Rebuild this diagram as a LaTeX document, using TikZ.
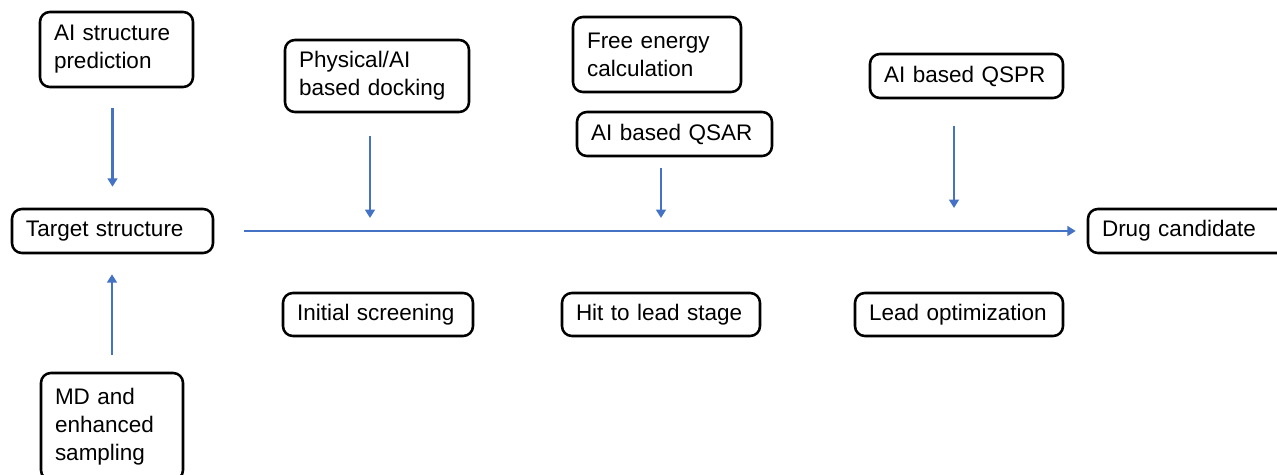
\documentclass[tikz,border=0pt]{standalone}
\usepackage{fontspec}
\setmainfont{Liberation Sans}
\usepackage{tikz}
\usetikzlibrary{positioning}
\usetikzlibrary{arrows.meta}

\definecolor{flowblue}{RGB}{68,114,196}

\begin{document}
\begin{tikzpicture}[->,>={Triangle[length=6pt,width=7pt]},
	flow/.style={draw=flowblue,fill=flowblue,line width=1.7pt},
	box/.style={draw,rounded corners=7pt,line width=1.8pt,align=left,inner xsep=0.35cm,inner ysep=0pt,font=\fontsize{16}{20}\selectfont}]
	
	\useasboundingbox (0,0) rectangle (31.925,11.875);
	
	\node[box, text width=3.125cm, minimum height=1.875cm] (P) at (2.9125,10.6375) {AI structure\\prediction};
	\node[box, text width=4.325cm, minimum height=1.1cm] (T) at (2.8125,6.1) {Target structure};
	\node[box, text width=2.85cm, minimum height=2.675cm] (M) at (2.8,1.2125) {MD and\\enhanced\\sampling};
	
	\node[box, text width=3.9cm, minimum height=1.8cm] (D) at (9.425,9.975) {Physical/AI\\based docking};
	\node[box, text width=4.05cm, minimum height=1.075cm] (S) at (9.45,4.0125) {Initial screening};
	
	\node[box, text width=3.5cm, minimum height=1.875cm] (F) at (16.425,10.5125) {Free energy\\calculation};
	\node[box, text width=4.175cm, minimum height=1.1cm] (Q) at (16.8625,8.525) {AI based QSAR};
	\node[box, text width=4.25cm, minimum height=1.075cm] (H) at (16.525,4.0125) {Hit to lead stage};
	
	\node[box, text width=4.125cm, minimum height=1.1cm] (R) at (24.1625,9.975) {AI based QSPR};
	\node[box, text width=4.5cm, minimum height=1.075cm] (L) at (23.975,4.0125) {Lead optimization};
	
	\node[box, text width=4.35cm, minimum height=1.1cm] (C) at (29.725,6.1) {Drug candidate};
	
	% structure inputs
	\draw[flow, shorten <=0.5cm, shorten >=0.525cm] (P.south -| T.north) -- (T.north);
	\draw[flow, shorten <=0.425cm, shorten >=0.5cm] (M.north) -- (M.north |- T.south);
	
	% pipeline
	\draw[flow, shorten <=0.75cm, shorten >=0.275cm] (T.east) -- (C.west);
	\draw[flow, shorten <=0.575cm, shorten >=0.325cm] ([xshift=-0.2cm]D.south -| S.north) -- ([xshift=-0.2cm]S.north |- T.east);
	\draw[flow, shorten <=0.275cm, shorten >=0.325cm] (Q.south -| H.north) -- (H.north |- T.east);
	\draw[flow, shorten <=0.675cm, shorten >=0.575cm] ([xshift=-0.125cm]R.south -| L.north) -- ([xshift=-0.125cm]L.north |- T.east);
\end{tikzpicture}
\end{document}
